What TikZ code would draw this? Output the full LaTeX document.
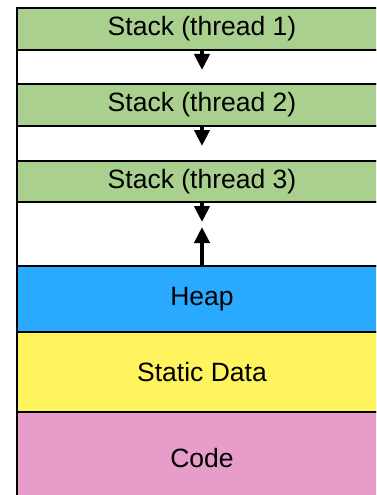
\documentclass[tikz,border=0pt]{standalone}
\usepackage{fontspec}
\setmainfont{Liberation Sans}
\usepackage{tikz}
\usetikzlibrary{arrows.meta,positioning}
\definecolor{stackgreen}{HTML}{A9D08E}
\definecolor{heapblue}{HTML}{2AAAFE}
\definecolor{staticyellow}{HTML}{FFF35E}
\definecolor{codepink}{HTML}{E69DC9}
\tikzset{
  mem seg/.style={draw=black,line width=2.2pt,outer sep=0pt,inner sep=0pt,
    minimum width=369.4pt,font=\fontsize{26.5}{30}\selectfont},
  mem stack/.style={mem seg,fill=stackgreen,minimum height=42pt},
  mem gap/.style={mem seg,fill=white},
  mem grow/.style={line width=4pt,-{Triangle[length=16pt,width=15pt]}}
}
\begin{document}
\begin{tikzpicture}[x=1pt,y=1pt]
  \useasboundingbox (0,0) rectangle (376,-495);
  \clip (0,0) rectangle (376,-495);
  \node[mem stack, anchor=north] (stack1) at (202,-8) {Stack (thread 1)};
  \node[mem gap, minimum height=34pt, below=0pt of stack1] (gap1) {};
  \node[mem stack, below=0pt of gap1] (stack2) {Stack (thread 2)};
  \node[mem gap, minimum height=35pt, below=0pt of stack2] (gap2) {};
  \node[mem stack, minimum height=41pt, below=0pt of gap2] (stack3) {Stack (thread 3)};
  \node[mem gap, minimum height=64pt, below=0pt of stack3] (gap3) {};
  \node[mem seg, fill=heapblue, minimum height=66pt, below=0pt of gap3] (heap) {Heap};
  \node[mem seg, fill=staticyellow, minimum height=80pt, below=0pt of heap] (static) {Static Data};
  \node[mem seg, fill=codepink, minimum height=92pt, below=0pt of static] (code) {Code};
  \coordinate[below=20pt of stack1.south] (tip1);
  \coordinate[below=20pt of stack2.south] (tip2);
  \coordinate[below=20pt of stack3.south] (tip3);
  \coordinate[above=39pt of heap.north] (tipheap);
  \draw[mem grow] (stack1.south) -- (tip1);
  \draw[mem grow] (stack2.south) -- (tip2);
  \draw[mem grow] (stack3.south) -- (tip3);
  \draw[mem grow] (heap.north) -- (tipheap);
\end{tikzpicture}
\end{document}
